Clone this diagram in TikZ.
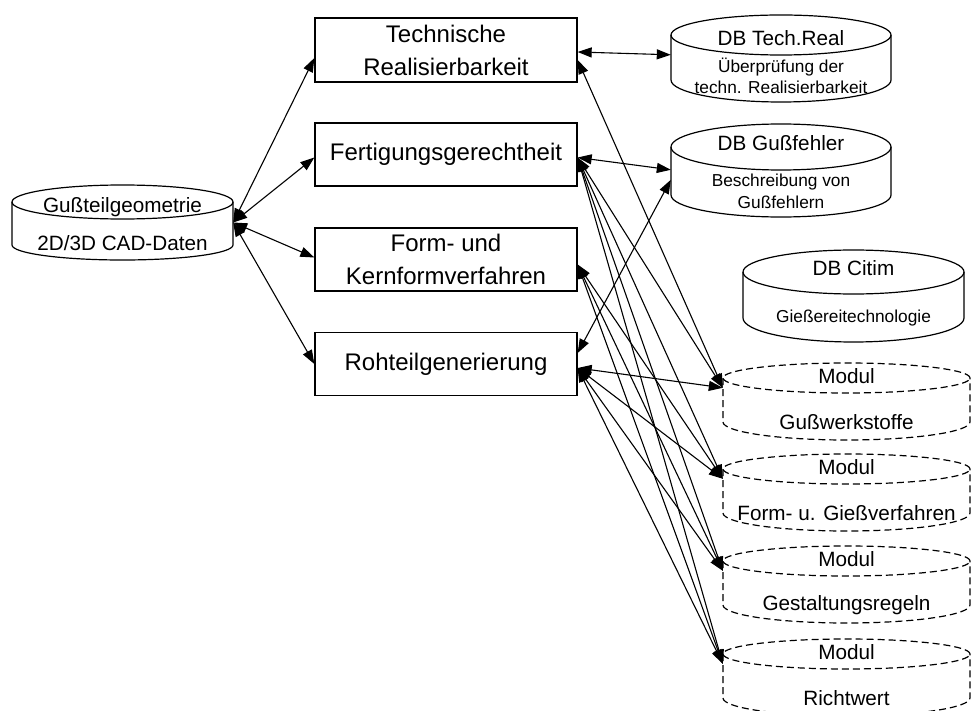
\documentclass[tikz,border=0pt]{standalone}
\usepackage{fontspec}
\setmainfont{Liberation Sans}
\usetikzlibrary{arrows.meta,calc}
\newcommand\mycyl[7]{%
  \pgfmathsetmacro\cylcx{(#2+#3)/2}%
  \pgfmathsetmacro\cylrx{(#3-#2)/2}%
  \draw[#1] (#2,#4) -- (#2,#6) arc[start angle=180,end angle=360,x radius=\cylrx pt,y radius=#7pt] -- (#3,#4);
  \draw[#1] (\cylcx,#4) ellipse[x radius=\cylrx pt,y radius=#5pt];
}
\begin{document}
\begin{tikzpicture}[x=1pt,y=-1pt,
  conn/.style={{Triangle[length=14pt,width=10pt]}-{Triangle[length=14pt,width=10pt]}, line width=1.1pt},
  boxnode/.style={draw, line width=1.3pt, minimum width=262pt, minimum height=63pt,
     font=\fontsize{24}{33}\selectfont, align=center, inner sep=0pt},
  bigtxt/.style={font=\fontsize{20.7}{24}\selectfont, inner sep=0pt},
  smalltxt/.style={font=\fontsize{17.3}{20}\selectfont, inner sep=0pt},
  area/.style={inner sep=0pt, draw=none},
  solidcyl/.style={line width=1.2pt},
  dashcyl/.style={line width=1.2pt, dash pattern=on 7pt off 4pt}
]
\useasboundingbox (0,0) rectangle (976,711);
\fill[white] (0,0) rectangle (976,711);

% boxes
\node[boxnode, minimum height=64pt] (b1) at (446,50) {Technische\\Realisierbarkeit};
\node[boxnode] (b2) at (446,154.5) {Fertigungsgerechtheit};
\node[boxnode] (b3) at (446,259.5) {Form- und\\Kernformverfahren};
\node[boxnode] (b4) at (446,364) {Rohteilgenerierung};

% left cylinder
\mycyl{solidcyl}{12}{233}{202}{17}{245}{15}
\node[area, minimum width=221pt, minimum height=75pt] (gc) at (122.5,222.5) {};
\node[bigtxt] (gct) at (122.5,207) {Gußteilgeometrie};
\node[bigtxt] (gcb) at (122.5,243) {2D/3D CAD-Daten};

% DB Tech.Real
\mycyl{solidcyl}{671}{891}{35}{20}{80}{22}
\node[area, minimum width=220pt, minimum height=87pt] (tr) at (781,58.5) {};
\node[bigtxt] (trt) at (781,38) {DB Tech.Real};
\node[smalltxt] (trb1) at (781,67) {Überprüfung der};
\node[smalltxt] (trb2) at (781,87) {techn. Realisierbarkeit};

% DB Gussfehler
\mycyl{solidcyl}{671}{891}{147}{23}{195}{22}
\node[area, minimum width=220pt, minimum height=93pt] (gf) at (781,170.5) {};
\node[bigtxt] (gft) at (781,143) {DB Gußfehler};
\node[smalltxt] (gfb1) at (781,182) {Beschreibung von};
\node[smalltxt] (gfb2) at (781,202) {Gußfehlern};

% DB Citim
\mycyl{solidcyl}{743}{964}{272}{22}{318}{24}
\node[area, minimum width=221pt, minimum height=92pt] (ci) at (853.5,296) {};
\node[bigtxt] (cit) at (853.5,268) {DB Citim};
\node[smalltxt] (cib) at (853.5,318) {Gießereitechnologie};

% modules
\foreach \nm/\yt/\lbl in {m1/378/Gußwerkstoffe, m2/469/Form- u. Gießverfahren, m3/561/Gestaltungsregeln, m4/654/Richtwert}{
  \pgfmathsetmacro\ybot{\yt+44}
  \mycyl{dashcyl}{723}{970}{\yt}{15}{\ybot}{18}
  \node[area, minimum width=247pt, minimum height=77pt] (\nm) at (846.5,\yt+23.5) {};
  \node[bigtxt] (\nm t) at (846.5,\yt-2) {Modul};
  \node[bigtxt] (\nm b) at (846.5,\ybot) {\lbl};
}

% connectors: left
\draw[conn] (gc.east) -- ($(b1.west)+(0,8)$);
\draw[conn] (gc.east) -- ($(b2.west)+(0,3)$);
\draw[conn] (gc.east) -- ($(b3.west)+(0,-2)$);
\draw[conn] (gc.east) -- (b4.west);

% connectors: right
\draw[conn] ($(b1.east)+(0,2)$) -- ($(tr.north west)+(0,40)$);
\draw[conn] ($(b1.east)+(0,10)$) -- ($(m1.north west)+(0,25)$);

\draw[conn] ($(b2.east)+(0,3)$) -- ($(gf.north west)+(0,46)$);
\foreach \m in {m1,m2,m3,m4}
  \draw[conn] ($(b2.east)+(0,3)$) -- ($(\m.north west)+(0,25)$);

\foreach \m in {m2,m3,m4}
  \draw[conn] ($(b3.east)+(0,5)$) -- ($(\m.north west)+(0,25)$);

\draw[conn] ($(b4.east)+(0,-11)$) -- ($(gf.north west)+(0,56)$);
\foreach \m in {m1,m2,m3,m4}
  \draw[conn] ($(b4.east)+(0,4)$) -- ($(\m.north west)+(0,25)$);
\end{tikzpicture}
\end{document}
